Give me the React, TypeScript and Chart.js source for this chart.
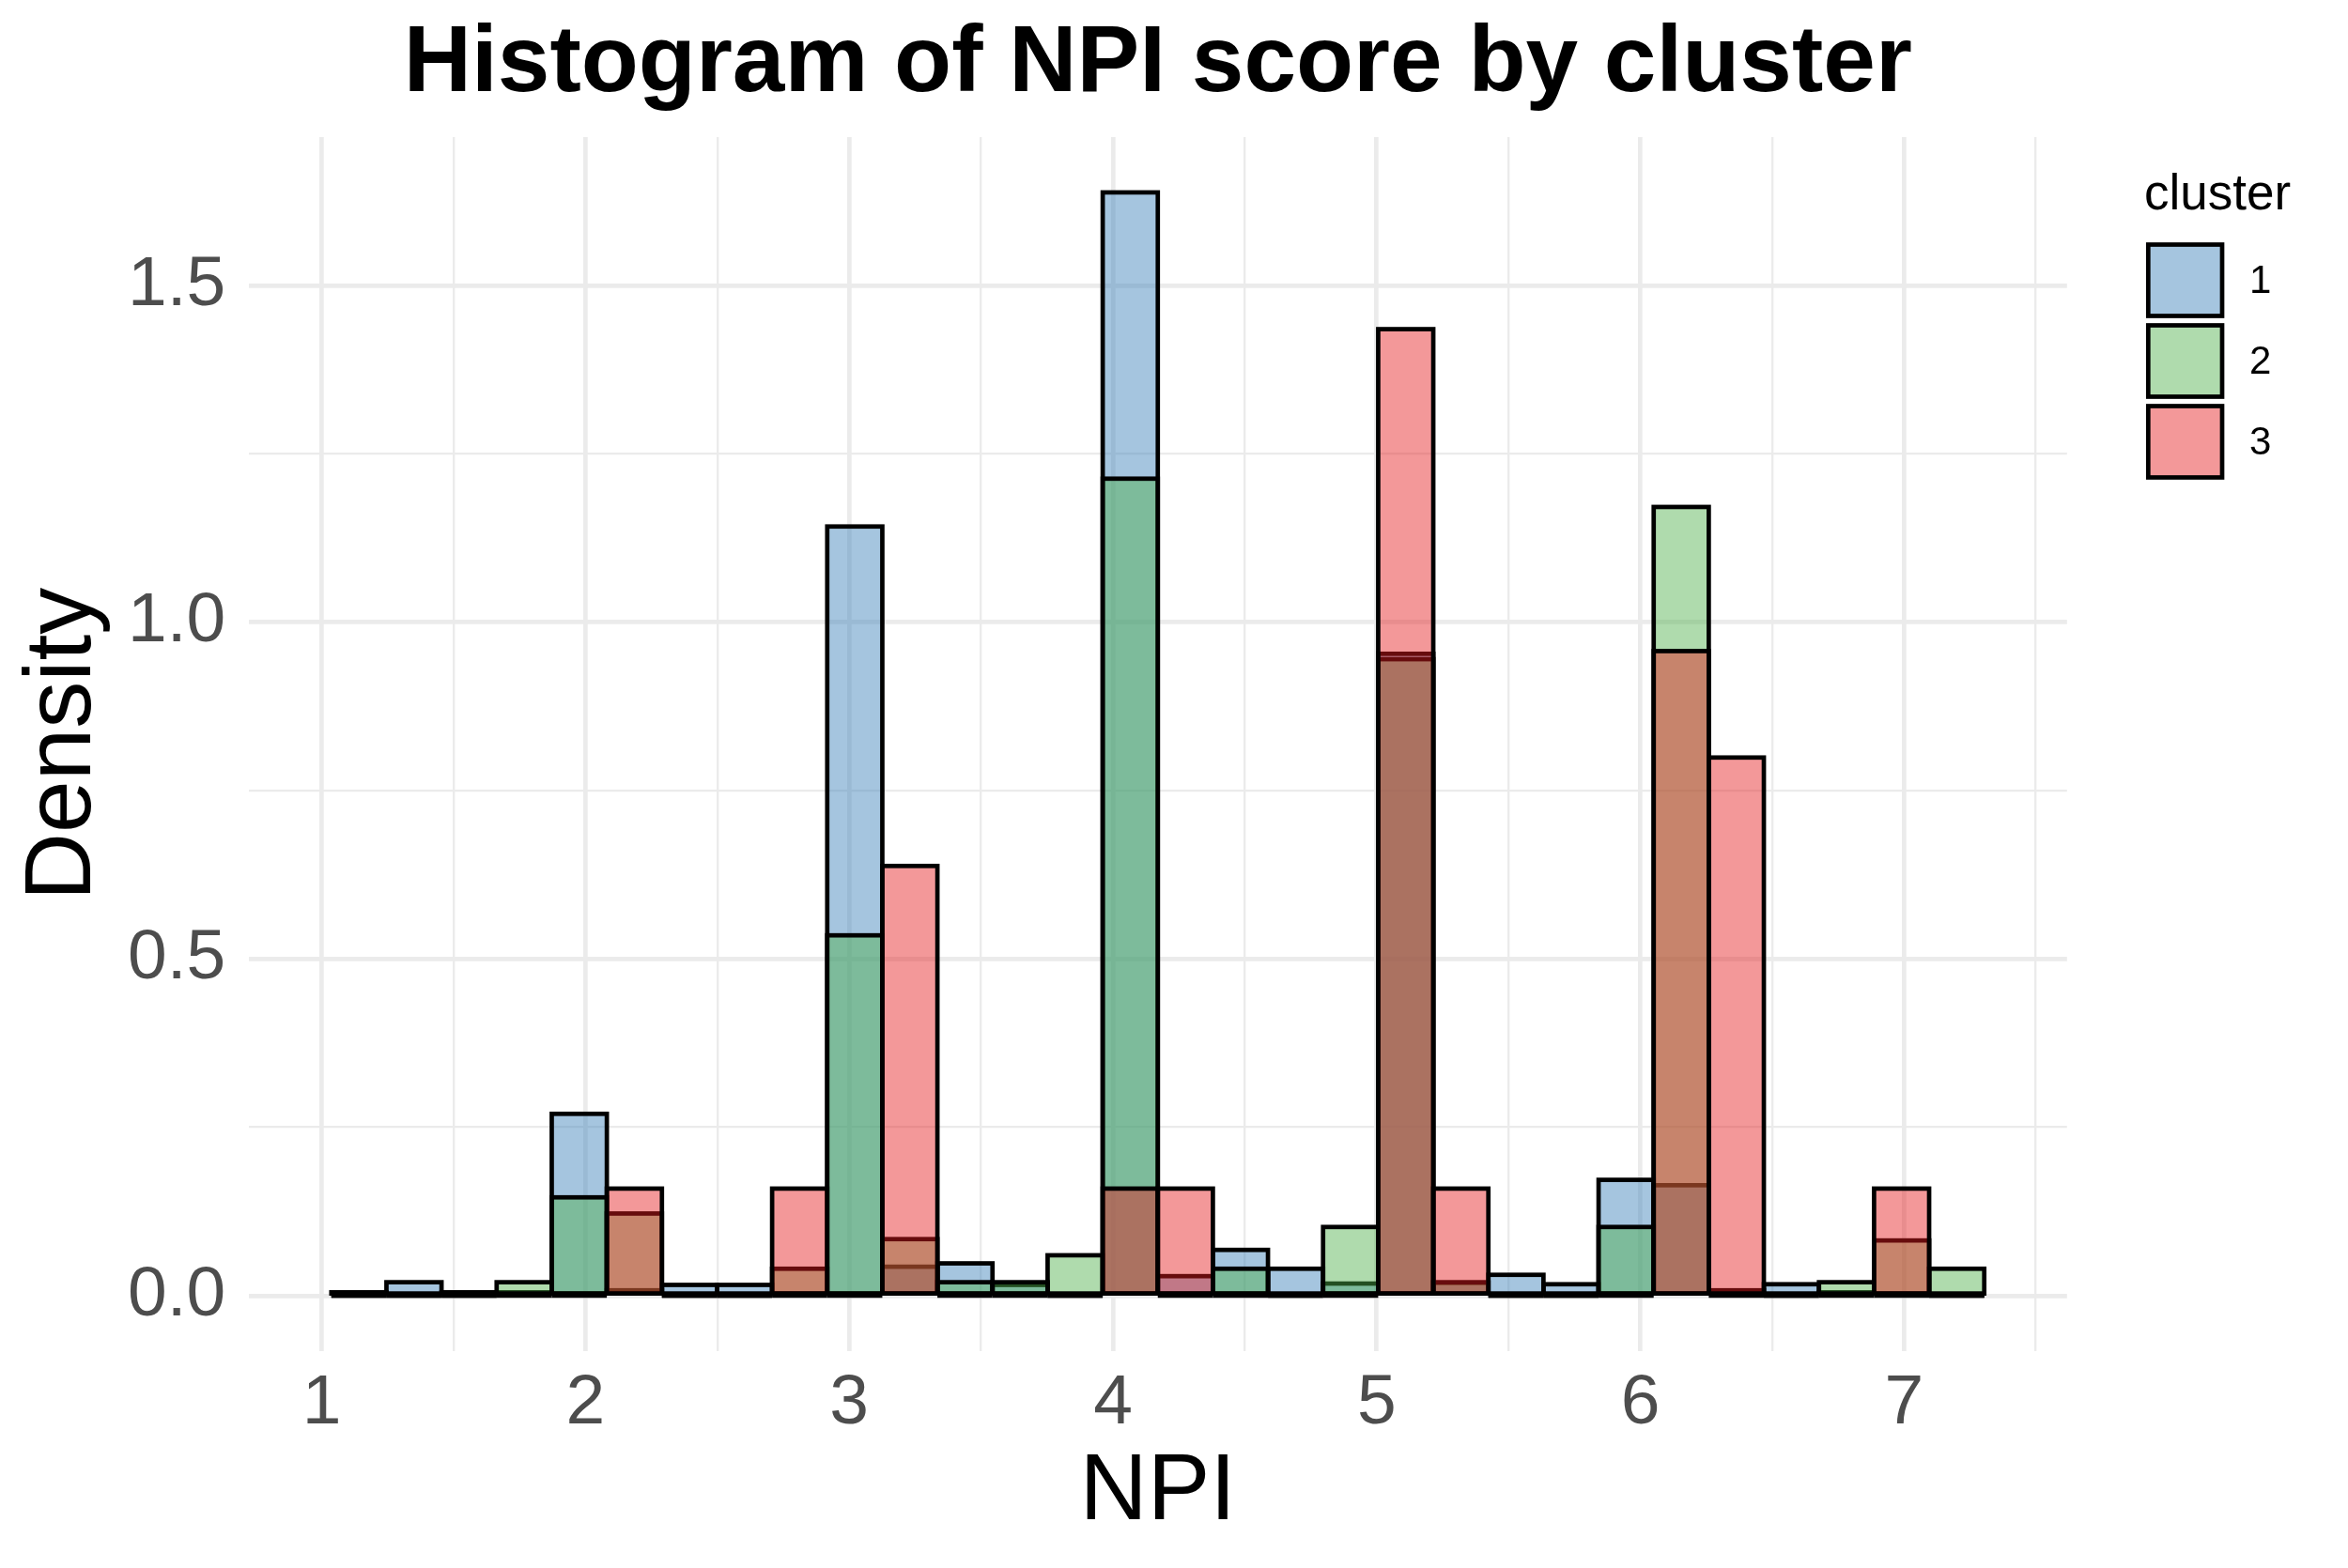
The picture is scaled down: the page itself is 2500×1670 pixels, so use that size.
import React, { useEffect, useRef } from 'react';
import { Chart, registerables } from 'chart.js';

Chart.register(...registerables);

// ---- data ----
const binCenters = [
  1.1405, 1.3494, 1.5584, 1.7673, 1.9763, 2.1852, 2.3941, 2.6031, 2.812, 3.021,
  3.2299, 3.4388, 3.6478, 3.8567, 4.0657, 4.2746, 4.4835, 4.6925, 4.9014, 5.1104,
  5.3193, 5.5282, 5.7372, 5.9461, 6.1551, 6.364, 6.5729, 6.7819, 6.9908, 7.1998,
];

const cluster1Density = [
  0.005, 0.02, 0.005, 0.005, 0.27, 0.008, 0.016, 0.016, 0, 1.142,
  0.043, 0.048, 0.016, 0, 1.638, 0.029, 0.068, 0.04, 0.018, 0.953,
  0.019, 0.031, 0.017, 0.172, 0.164, 0, 0.017, 0.005, 0, 0,
];

const cluster2Density = [
  0, 0, 0, 0.02, 0.146, 0.122, 0, 0, 0.04, 0.535,
  0.084, 0.02, 0.02, 0.06, 1.213, 0, 0.04, 0, 0.102, 0.945,
  0.02, 0, 0, 0.102, 1.171, 0.008, 0, 0.02, 0.082, 0.04,
];

const cluster3Density = [
  0, 0, 0, 0, 0, 0.159, 0, 0, 0.159, 0,
  0.638, 0, 0, 0, 0.159, 0.159, 0, 0, 0, 1.435,
  0.159, 0, 0, 0, 0.957, 0.799, 0, 0, 0.159, 0,
];

const clusterLabels = ['1', '2', '3'];
const clusterFills = ['rgba(55,126,184,0.45)', 'rgba(77,175,74,0.45)', 'rgba(228,26,28,0.45)'];

const chartTitle = 'Histogram of NPI score by cluster';
const xTitle = 'NPI';
const yTitle = 'Density';
const legendTitle = 'cluster';

const xRange = [0.7226, 7.618];
const yRange = [-0.082, 1.72];

// ---- styling ----
const FONT = '"Liberation Sans", Arial, Helvetica, sans-serif';
const BORDER = 4.7;
const GRID = '#ebebeb';

const outlinePlugin = {
  id: 'histOutline',
  afterDatasetDraw(chart: any, args: any) {
    const ctx = chart.ctx;
    ctx.save();
    ctx.strokeStyle = '#000000';
    ctx.lineWidth = BORDER;
    ctx.lineJoin = 'miter';
    ctx.lineCap = 'butt';
    args.meta.data.forEach((el: any) => {
      const p = el.getProps(['x', 'y', 'base', 'width'], true);
      const top = Math.min(p.y, p.base);
      const h = Math.abs(p.base - p.y);
      ctx.strokeRect(p.x - p.width / 2, top, p.width, h);
    });
    ctx.restore();
  },
};

const legendPlugin = {
  id: 'ggLegend',
  afterDraw(chart: any) {
    const ctx = chart.ctx;
    const area = chart.chartArea;
    const lx = area.right + 82.2;
    const ty = area.top + 77;
    ctx.save();
    ctx.fillStyle = '#000000';
    ctx.font = `53px ${FONT}`;
    ctx.textAlign = 'left';
    ctx.textBaseline = 'alphabetic';
    ctx.fillText(legendTitle, lx, ty);
    const bx = lx + 4.3;
    const bw = 78.7;
    const bh = 76;
    chart.data.datasets.forEach((ds: any, i: number) => {
      const by = area.top + 114.4 + i * 86;
      ctx.fillStyle = '#ffffff';
      ctx.fillRect(bx, by, bw, bh);
      ctx.fillStyle = ds.backgroundColor;
      ctx.fillRect(bx, by, bw, bh);
      ctx.lineWidth = BORDER;
      ctx.strokeStyle = '#000000';
      ctx.lineJoin = 'miter';
      ctx.strokeRect(bx, by, bw, bh);
      ctx.fillStyle = '#000000';
      ctx.font = `42px ${FONT}`;
      ctx.textBaseline = 'middle';
      ctx.fillText(ds.label, bx + bw + 29, by + bh / 2 + 2);
    });
    ctx.restore();
  },
};

export default function App() {
  const canvasRef = useRef<HTMLCanvasElement | null>(null);

  useEffect(() => {
    document.body.style.margin = '0';
    document.body.style.overflow = 'hidden';
    const canvas = canvasRef.current;
    if (!canvas) return;

    const series = [cluster1Density, cluster2Density, cluster3Density];
    const datasets = series.map((vals, i) => ({
      label: clusterLabels[i],
      data: binCenters.map((x, k) => ({ x, y: vals[k] })),
      backgroundColor: clusterFills[i],
      borderWidth: 0,
      inflateAmount: 0,
      grouped: false,
      barPercentage: 1,
      categoryPercentage: 1,
      order: 3 - i,
    }));

    const chart = new Chart(canvas, {
      type: 'bar',
      data: { datasets },
      plugins: [outlinePlugin, legendPlugin],
      options: {
        responsive: false,
        animation: false,
        devicePixelRatio: 1,
        layout: { padding: { left: 0, right: 299.2, top: 0, bottom: 0 } },
        plugins: {
          legend: { display: false },
          tooltip: { enabled: false },
          title: {
            display: true,
            text: chartTitle,
            fullSize: false,
            color: '#000000',
            font: { family: FONT, size: 100, weight: 'bold', lineHeight: 1.2 },
            padding: { top: 9.35, bottom: 16.75 },
          },
        },
        scales: {
          x: {
            type: 'linear',
            min: xRange[0],
            max: xRange[1],
            offset: false,
            border: { display: false },
            grid: {
              color: GRID,
              offset: false,
              drawTicks: false,
              lineWidth: (c: any) => (c.tick && Number.isInteger(c.tick.value) ? BORDER : BORDER / 2),
            },
            ticks: {
              stepSize: 0.5,
              includeBounds: false,
              autoSkip: false,
              maxRotation: 0,
              minRotation: 0,
              padding: 11.2,
              color: '#4d4d4d',
              font: { family: FONT, size: 75, lineHeight: 1.2 },
              callback: (v: any) => (Number.isInteger(v) ? String(v) : ''),
            },
            title: {
              display: true,
              text: xTitle,
              color: '#000000',
              font: { family: FONT, size: 100, lineHeight: 1.2 },
              padding: { top: 0, bottom: 19.15 },
            },
            afterFit: (s: any) => {
              s.height = 231.2;
            },
          },
          y: {
            type: 'linear',
            min: yRange[0],
            max: yRange[1],
            border: { display: false },
            grid: {
              color: GRID,
              drawTicks: false,
              lineWidth: (c: any) => {
                if (!c.tick) return BORDER / 2;
                const v = c.tick.value * 2;
                return Math.abs(v - Math.round(v)) < 1e-9 ? BORDER : BORDER / 2;
              },
            },
            ticks: {
              stepSize: 0.25,
              includeBounds: false,
              padding: 24.5,
              color: '#4d4d4d',
              font: { family: FONT, size: 75, lineHeight: 1.2 },
              callback: (v: any) => {
                const d = v * 2;
                return Math.abs(d - Math.round(d)) < 1e-9 ? Number(v).toFixed(1) : '';
              },
            },
            title: {
              display: true,
              text: yTitle,
              color: '#000000',
              font: { family: FONT, size: 100, lineHeight: 1.2 },
              padding: { top: 8.85, bottom: 0 },
            },
            afterFit: (s: any) => {
              s.width = 264.8;
            },
          },
        },
      } as any,
    });

    return () => {
      chart.destroy();
    };
  }, []);

  return (
    <canvas
      ref={canvasRef}
      width={2500}
      height={1670}
      style={{ display: 'block', width: '2500px', height: '1670px' }}
    />
  );
}
